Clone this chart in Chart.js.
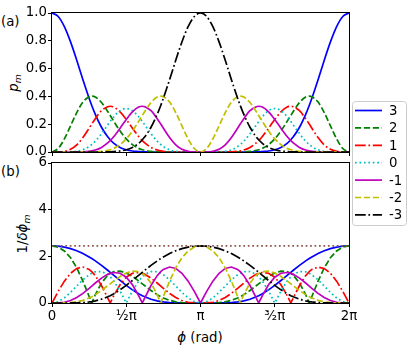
<!DOCTYPE html>
<html>
<head>
<meta charset="utf-8">
<script src="https://cdn.jsdelivr.net/npm/chart.js@4.4.0/dist/chart.umd.min.js"></script>
<style>
body { margin:0; background:#fff; }
#wrap { position:relative; width:415px; height:354px; overflow:hidden; font-family:'DejaVu Sans'; font-size:13.3px; color:#000; }
canvas { position:absolute; left:0; }
#top { top:0; z-index:2; }
#bot { top:150px; z-index:1; }
.lbl { position:absolute; white-space:nowrap; line-height:1; }
.sub { font-size:70%; position:relative; top:0.3em; }
</style>
</head>
<body>
<div id="wrap">
<canvas id="bot" width="415" height="204"></canvas>
<canvas id="top" width="415" height="230"></canvas>
<div class="lbl" style="left:1px;top:15px">(a)</div>
<div class="lbl" style="left:1px;top:165px">(b)</div>
<div class="lbl" style="left:14px;top:83px;transform:translate(-50%,-50%) rotate(-90deg)"><i>p</i><span class="sub"><i>m</i></span></div>
<div class="lbl" style="left:23px;top:234px;transform:translate(-50%,-50%) rotate(-90deg)">1/<i>δϕ</i><span class="sub"><i>m</i></span></div>
<div class="lbl" style="left:200px;top:338px;transform:translate(-50%,-50%)"><i>ϕ</i> (rad)</div>
</div>
<script>
// phase in units of pi
const phi = [0, 0.0417, 0.0833, 0.125, 0.1667, 0.2083, 0.25, 0.2677, 0.2917, 0.3333, 0.375, 0.3918, 0.4167, 0.4583, 0.5,
  0.5417, 0.5833, 0.6082, 0.625, 0.6667, 0.7083, 0.7323, 0.75, 0.7917, 0.8333, 0.875, 0.9167, 0.9583, 1,
  1.0417, 1.0833, 1.125, 1.1667, 1.2083, 1.25, 1.2677, 1.2917, 1.3333, 1.375, 1.3918, 1.4167, 1.4583, 1.5,
  1.5417, 1.5833, 1.6082, 1.625, 1.6667, 1.7083, 1.7323, 1.75, 1.7917, 1.8333, 1.875, 1.9167, 1.9583, 2];

const mLabels = ['3', '2', '1', '0', '-1', '-2', '-3'];

// (a) probabilities p_m
const pm3 = [1, .975, .902, .792, .660, .520, .387, .335, .271, .178, .109, .088, .062, .033, .016, .007, .003, .001, .001, 0, 0, 0, 0, 0, 0, 0, 0, 0, 0,
  0, 0, 0, 0, 0, 0, 0, 0, 0, .001, .001, .003, .007, .016, .033, .062, .088, .109, .178, .271, .335, .387, .520, .660, .792, .902, .975, 1];
const pm2 = [0, .025, .094, .188, .284, .359, .398, .402, .395, .356, .292, .263, .220, .151, .094, .053, .026, .016, .012, .004, .001, .001, 0, 0, 0, 0, 0, 0, 0,
  0, 0, 0, 0, 0, 0, .001, .001, .004, .012, .016, .026, .053, .094, .151, .220, .263, .292, .356, .395, .402, .398, .359, .284, .188, .094, .025, 0];
const pm1 = [0, 0, .004, .019, .051, .104, .171, .201, .240, .297, .326, .329, .323, .289, .234, .171, .112, .082, .065, .033, .014, .008, .005, .001, 0, 0, 0, 0, 0,
  0, 0, 0, 0, .001, .005, .008, .014, .033, .065, .082, .112, .171, .234, .289, .323, .329, .326, .297, .240, .201, .171, .104, .051, .019, .004, 0, 0];
const pm0 = [0, 0, 0, .001, .005, .016, .039, .054, .078, .132, .194, .219, .254, .297, .313, .297, .254, .219, .194, .132, .078, .054, .039, .016, .005, .001, 0, 0, 0,
  0, 0, .001, .005, .016, .039, .054, .078, .132, .194, .219, .254, .297, .313, .297, .254, .219, .194, .132, .078, .054, .039, .016, .005, .001, 0, 0, 0];
const pmN1 = [0, 0, 0, 0, 0, .001, .005, .008, .014, .033, .065, .082, .112, .171, .234, .289, .323, .329, .326, .297, .240, .201, .171, .104, .051, .019, .004, 0, 0,
  0, .004, .019, .051, .104, .171, .201, .240, .297, .326, .329, .323, .289, .234, .171, .112, .082, .065, .033, .014, .008, .005, .001, 0, 0, 0, 0, 0];
const pmN2 = [0, 0, 0, 0, 0, 0, 0, .001, .001, .004, .012, .016, .026, .053, .094, .151, .220, .263, .292, .356, .395, .402, .398, .359, .284, .188, .094, .025, 0,
  .025, .094, .188, .284, .359, .398, .402, .395, .356, .292, .263, .220, .151, .094, .053, .026, .016, .012, .004, .001, .001, 0, 0, 0, 0, 0, 0, 0];
const pmN3 = [0, 0, 0, 0, 0, 0, 0, 0, 0, 0, .001, .001, .003, .007, .016, .033, .062, .088, .109, .178, .271, .335, .387, .520, .660, .792, .902, .975, 1,
  .975, .902, .792, .660, .520, .387, .335, .271, .178, .109, .088, .062, .033, .016, .007, .003, .001, .001, 0, 0, 0, 0, 0, 0, 0, 0, 0, 0];

// (b) 1/delta phi_m
const inv3 = [2.449, 2.436, 2.397, 2.331, 2.238, 2.119, 1.974, 1.904, 1.804, 1.612, 1.404, 1.316, 1.185, 0.966, 0.756, 0.564, 0.399, 0.315, 0.264, 0.162, 0.091, 0.062, 0.046, 0.020, 0.007, 0.002, 0, 0, 0,
  0, 0, 0.002, 0.007, 0.020, 0.046, 0.062, 0.091, 0.162, 0.264, 0.315, 0.399, 0.564, 0.756, 0.966, 1.185, 1.316, 1.404, 1.612, 1.804, 1.904, 1.974, 2.119, 2.238, 2.331, 2.397, 2.436, 2.449];
const inv2 = [2.449, 2.397, 2.232, 1.941, 1.507, 0.935, 0.279, 0, 0.354, 0.858, 1.186, 1.268, 1.344, 1.366, 1.287, 1.138, 0.947, 0.823, 0.739, 0.537, 0.359, 0.272, 0.217, 0.115, 0.051, 0.017, 0.004, 0, 0,
  0, 0.004, 0.017, 0.051, 0.115, 0.217, 0.272, 0.359, 0.537, 0.739, 0.823, 0.947, 1.138, 1.287, 1.366, 1.344, 1.268, 1.186, 0.858, 0.354, 0, 0.279, 0.935, 1.507, 1.941, 2.232, 2.397, 2.449];
const inv1 = [0, 0.497, 0.937, 1.275, 1.482, 1.541, 1.439, 1.346, 1.172, 0.750, 0.223, 0, 0.320, 0.783, 1.107, 1.276, 1.307, 1.271, 1.227, 1.066, 0.856, 0.725, 0.628, 0.412, 0.233, 0.106, 0.033, 0.004, 0,
  0.004, 0.033, 0.106, 0.233, 0.412, 0.628, 0.725, 0.856, 1.066, 1.227, 1.271, 1.307, 1.276, 1.107, 0.783, 0.320, 0, 0.223, 0.750, 1.172, 1.346, 1.439, 1.541, 1.482, 1.275, 0.937, 0.497, 0];
const inv0 = [0, 0.057, 0.217, 0.454, 0.728, 0.994, 1.210, 1.277, 1.338, 1.350, 1.221, 1.125, 0.938, 0.513, 0, 0.513, 0.938, 1.125, 1.221, 1.350, 1.338, 1.277, 1.210, 0.994, 0.728, 0.454, 0.217, 0.057, 0,
  0.057, 0.217, 0.454, 0.728, 0.994, 1.210, 1.277, 1.338, 1.350, 1.221, 1.125, 0.938, 0.513, 0, 0.513, 0.938, 1.125, 1.221, 1.350, 1.338, 1.277, 1.210, 0.994, 0.728, 0.454, 0.217, 0.057, 0];
const invN1 = [0, 0.004, 0.033, 0.106, 0.233, 0.412, 0.628, 0.725, 0.856, 1.066, 1.227, 1.271, 1.307, 1.276, 1.107, 0.783, 0.320, 0, 0.223, 0.750, 1.172, 1.346, 1.439, 1.541, 1.482, 1.275, 0.937, 0.497, 0,
  0.497, 0.937, 1.275, 1.482, 1.541, 1.439, 1.346, 1.172, 0.750, 0.223, 0, 0.320, 0.783, 1.107, 1.276, 1.307, 1.271, 1.227, 1.066, 0.856, 0.725, 0.628, 0.412, 0.233, 0.106, 0.033, 0.004, 0];
const invN2 = [0, 0, 0.004, 0.017, 0.051, 0.115, 0.217, 0.272, 0.359, 0.537, 0.739, 0.823, 0.947, 1.138, 1.287, 1.366, 1.344, 1.268, 1.186, 0.858, 0.354, 0, 0.279, 0.935, 1.507, 1.941, 2.232, 2.397, 2.449,
  2.397, 2.232, 1.941, 1.507, 0.935, 0.279, 0, 0.354, 0.858, 1.186, 1.268, 1.344, 1.366, 1.287, 1.138, 0.947, 0.823, 0.739, 0.537, 0.359, 0.272, 0.217, 0.115, 0.051, 0.017, 0.004, 0, 0];
const invN3 = [0, 0, 0, 0.002, 0.007, 0.020, 0.046, 0.062, 0.091, 0.162, 0.264, 0.315, 0.399, 0.564, 0.756, 0.966, 1.185, 1.316, 1.404, 1.612, 1.804, 1.904, 1.974, 2.119, 2.238, 2.331, 2.397, 2.436, 2.449,
  2.436, 2.397, 2.331, 2.238, 2.119, 1.974, 1.904, 1.804, 1.612, 1.404, 1.316, 1.185, 0.966, 0.756, 0.564, 0.399, 0.315, 0.264, 0.162, 0.091, 0.062, 0.046, 0.020, 0.007, 0.002, 0, 0, 0];

// dotted reference level in (b)
const refPhi = [0, 2];
const refLevel = [2.449, 2.449];

const xTickValues = [0, 0.5, 1, 1.5, 2];
const xTickLabels = ['0', '½π', 'π', '³⁄₂π', '2π'];

Chart.defaults.font.family = "'DejaVu Sans'";
Chart.defaults.font.size = 13.3;
Chart.defaults.color = '#000';

const lineStyles = [
  { color: '#0000ff', dash: [] },
  { color: '#008000', dash: [6.2, 2.7] },
  { color: '#ff0000', dash: [10.7, 2.7, 1.7, 2.7] },
  { color: '#00bfbf', dash: [1.7, 2.75] },
  { color: '#bf00bf', dash: [] },
  { color: '#bfbf00', dash: [6.2, 2.7] },
  { color: '#000000', dash: [10.7, 2.7, 1.7, 2.7] }
];

function makeSets(seriesList, smooth) {
  return seriesList.map((vals, i) => ({
    label: mLabels[i],
    data: phi.map((x, j) => ({ x: x, y: vals[j] })),
    borderColor: lineStyles[i].color,
    borderDash: lineStyles[i].dash,
    borderWidth: 1.7,
    pointRadius: 0,
    fill: false,
    cubicInterpolationMode: smooth ? 'monotone' : 'default',
    tension: 0,
    order: 10 - i
  }));
}

// box around the axes, like matplotlib spines
const frame = {
  id: 'frame',
  afterDraw(c) {
    const a = c.chartArea, ctx = c.ctx;
    ctx.save();
    ctx.strokeStyle = '#000';
    ctx.lineWidth = 1;
    ctx.strokeRect(a.left - 0.5, a.top - 0.5, a.right - a.left + 1, a.bottom - a.top + 1);
    ctx.restore();
  }
};

// legend box on the right, spanning both panels
const sideLegend = {
  id: 'sideLegend',
  afterDraw(c) {
    const ctx = c.ctx;
    const x0 = 352.5, y0 = 101.5, w = 54, h = 124, r = 3;
    ctx.save();
    ctx.beginPath();
    ctx.roundRect(x0, y0, w, h, r);
    ctx.fillStyle = 'rgba(255,255,255,0.8)';
    ctx.fill();
    ctx.strokeStyle = '#cccccc';
    ctx.lineWidth = 1;
    ctx.stroke();
    ctx.font = "13.3px 'DejaVu Sans'";
    ctx.textBaseline = 'middle';
    ctx.textAlign = 'left';
    c.data.datasets.forEach((ds, i) => {
      const y = 110.5 + i * 17.4;
      ctx.beginPath();
      ctx.setLineDash(ds.borderDash);
      ctx.strokeStyle = ds.borderColor;
      ctx.lineWidth = 1.7;
      ctx.moveTo(355, y);
      ctx.lineTo(382, y);
      ctx.stroke();
      ctx.setLineDash([]);
      ctx.fillStyle = '#000';
      ctx.fillText(ds.label, 389, y + 1);
    });
    ctx.restore();
  }
};

function xScale(showLabels, height) {
  return {
    type: 'linear', min: 0, max: 2,
    afterBuildTicks: s => { s.ticks = xTickValues.map(v => ({ value: v })); },
    afterFit: s => { s.height = height; },
    ticks: { display: showLabels, padding: 2, maxRotation: 0, autoSkip: false,
      callback: v => xTickLabels[xTickValues.indexOf(v)] },
    grid: { drawOnChartArea: false, drawTicks: true, tickLength: 4, color: '#000', lineWidth: 1 },
    border: { display: false }
  };
}

function yScale(max, step, digits) {
  return {
    min: 0, max: max,
    afterFit: s => { s.width = 52; },
    ticks: { stepSize: step, padding: 1, callback: v => v.toFixed(digits) },
    grid: { drawOnChartArea: false, drawTicks: true, tickLength: 4, color: '#000', lineWidth: 1 },
    border: { display: false }
  };
}

new Chart(document.getElementById('top'), {
  type: 'line',
  data: { datasets: makeSets([pm3, pm2, pm1, pm0, pmN1, pmN2, pmN3], true) },
  options: {
    responsive: false, animation: false,
    layout: { padding: { left: 0, top: 13, right: 66, bottom: 0 } },
    scales: { x: xScale(false, 78), y: yScale(1, 0.2, 1) },
    plugins: { legend: { display: false }, tooltip: { enabled: false } }
  },
  plugins: [frame, sideLegend]
});

const botSets = makeSets([inv3, inv2, inv1, inv0, invN1, invN2, invN3], false);
botSets.push({
  label: '',
  data: refPhi.map((x, j) => ({ x: x, y: refLevel[j] })),
  borderColor: '#8c564b',
  borderDash: [1.7, 2.75],
  borderWidth: 1.7,
  pointRadius: 0,
  fill: false,
  order: 0
});

new Chart(document.getElementById('bot'), {
  type: 'line',
  data: { datasets: botSets },
  options: {
    responsive: false, animation: false,
    layout: { padding: { left: 0, top: 13, right: 66, bottom: 0 } },
    scales: { x: xScale(true, 51), y: yScale(6, 2, 0) },
    plugins: { legend: { display: false }, tooltip: { enabled: false } }
  },
  plugins: [frame]
});
</script>
</body>
</html>
